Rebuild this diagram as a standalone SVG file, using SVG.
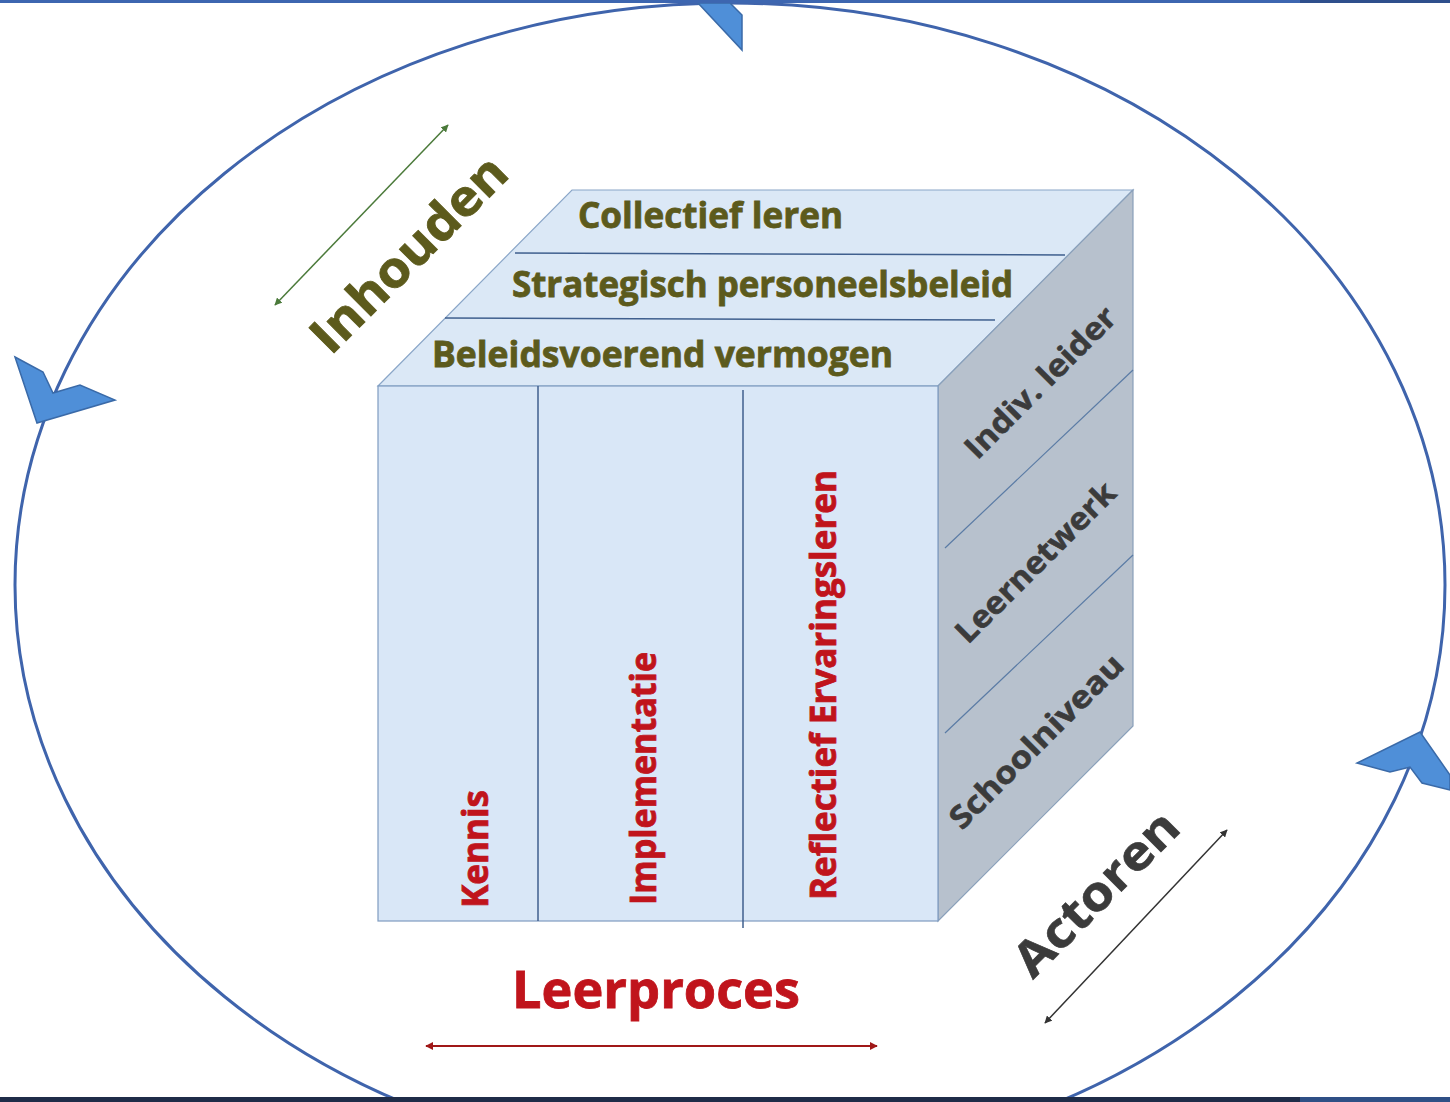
<svg xmlns="http://www.w3.org/2000/svg" width="1450" height="1102" viewBox="0 0 1450 1102">
<defs>
<style>
.olive{fill:#5c5a1c;stroke:#5c5a1c;stroke-width:0.8;font-family:"Open Sans","Liberation Sans",sans-serif;font-weight:bold}
.red{fill:#c0141c;stroke:#c0141c;stroke-width:0.8;font-family:"Open Sans","Liberation Sans",sans-serif;font-weight:bold}
.gray{fill:#3b3b3b;stroke:#3b3b3b;stroke-width:0.6;font-family:"Open Sans","Liberation Sans",sans-serif;font-weight:bold}
.div{stroke:#3f5f8e;stroke-width:1.5;fill:none}
.arrowhead{fill:#4f8fd8;stroke:#3a6aa8;stroke-width:1.5}
</style>
<marker id="mg" viewBox="0 0 10 10" refX="9" refY="5" markerWidth="5" markerHeight="5" orient="auto-start-reverse"><path d="M0,0 L10,5 L0,10 z" fill="#4b7a3a"/></marker>
<marker id="md" viewBox="0 0 10 10" refX="9" refY="5" markerWidth="5" markerHeight="5" orient="auto-start-reverse"><path d="M0,0 L10,5 L0,10 z" fill="#333"/></marker>
<marker id="mr" viewBox="0 0 10 10" refX="9" refY="5" markerWidth="4" markerHeight="4" orient="auto-start-reverse"><path d="M0,0 L10,5 L0,10 z" fill="#a01818"/></marker>
</defs>
<rect width="1450" height="1102" fill="#ffffff"/>

<g id="cycle">
<ellipse cx="730" cy="585" rx="715" ry="582" fill="none" stroke="#3f64ac" stroke-width="3"/>
<polygon class="arrowhead" points="698,3 730,3 742,15 742,50"/>
<polygon class="arrowhead" points="15,357 43,372 53,393 80,385 115,400 37,423"/>
<polygon class="arrowhead" points="1357,763 1390,772 1410,767 1422,783 1450,790 1450,775 1420,732"/>
</g>

<g id="cube">
<polygon points="378,386 572,190 1133,190 938,386" fill="#dbe8f6" stroke="#8aa6c8" stroke-width="1.2"/>
<polygon points="938,386 1133,190 1133,726 938,921" fill="#b7c1cd" stroke="#8aa0ba" stroke-width="1.2"/>
<rect x="378" y="386" width="560" height="535" fill="#d9e7f7" stroke="#7f9cc0" stroke-width="1.2"/>
<line class="div" x1="515" y1="253" x2="1065" y2="255"/>
<line class="div" x1="445" y1="318" x2="995" y2="320"/>
<line class="div" x1="538" y1="386" x2="538" y2="921"/>
<line class="div" x1="743" y1="390" x2="743" y2="928"/>
<line x1="945" y1="548" x2="1133" y2="370" stroke="#5a7ba5" stroke-width="1.2"/>
<line x1="945" y1="733" x2="1133" y2="555" stroke="#5a7ba5" stroke-width="1.2"/>
</g>

<g id="top-labels">
<text class="olive" x="578" y="228" font-size="35" textLength="265" lengthAdjust="spacingAndGlyphs">Collectief leren</text>
<text class="olive" x="512" y="297" font-size="35" textLength="501" lengthAdjust="spacingAndGlyphs">Strategisch  personeelsbeleid</text>
<text class="olive" x="432" y="367" font-size="35" textLength="461" lengthAdjust="spacingAndGlyphs">Beleidsvoerend  vermogen</text>
</g>

<g id="front-labels">
<text class="red" transform="translate(488,908) rotate(-90)" font-size="35" textLength="118" lengthAdjust="spacingAndGlyphs">Kennis</text>
<text class="red" transform="translate(656,905) rotate(-90)" font-size="35" textLength="253" lengthAdjust="spacingAndGlyphs">Implementatie</text>
<text class="red" transform="translate(836,900) rotate(-90)" font-size="35" textLength="430" lengthAdjust="spacingAndGlyphs">Reflectief  Ervaringsleren</text>
</g>

<g id="side-labels">
<text class="gray" transform="translate(1048,390) rotate(-45)" text-anchor="middle" font-size="31" textLength="200" lengthAdjust="spacingAndGlyphs">Indiv. leider</text>
<text class="gray" transform="translate(1043,570) rotate(-45)" text-anchor="middle" font-size="31" textLength="212" lengthAdjust="spacingAndGlyphs">Leernetwerk</text>
<text class="gray" transform="translate(1044,749) rotate(-45)" text-anchor="middle" font-size="31" textLength="232" lengthAdjust="spacingAndGlyphs">Schoolniveau</text>
</g>

<g id="axis-inhouden">
<text class="olive" transform="translate(421,266) rotate(-45)" text-anchor="middle" font-size="50" textLength="255" lengthAdjust="spacingAndGlyphs">Inhouden</text>
</g>
<g id="axis-actoren">
<text class="gray" transform="translate(1108,905) rotate(-45)" text-anchor="middle" font-size="48" textLength="212" lengthAdjust="spacingAndGlyphs">Actoren</text>
</g>
<g id="axis-leerproces">
<text class="red" x="656" y="1008" text-anchor="middle" font-size="52" textLength="288" lengthAdjust="spacingAndGlyphs">Leerproces</text>
</g>

<g id="connectors">
<line x1="275" y1="305" x2="448" y2="125" stroke="#4b7a3a" stroke-width="1.5" marker-start="url(#mg)" marker-end="url(#mg)"/>
<line x1="1045" y1="1023" x2="1227" y2="830" stroke="#333" stroke-width="1.5" marker-start="url(#md)" marker-end="url(#md)"/>
<line x1="426" y1="1046" x2="877" y2="1046" stroke="#a01818" stroke-width="2" marker-start="url(#mr)" marker-end="url(#mr)"/>
</g>

<g id="frame">
<rect x="0" y="0" width="1300" height="3" fill="#3d66b0"/>
<rect x="1300" y="0" width="150" height="3" fill="#2e4f8c"/>
<rect x="0" y="1097" width="1300" height="5" fill="#1f2c48"/>
<rect x="1300" y="1097" width="150" height="5" fill="#2f4f85"/>
</g>
</svg>
